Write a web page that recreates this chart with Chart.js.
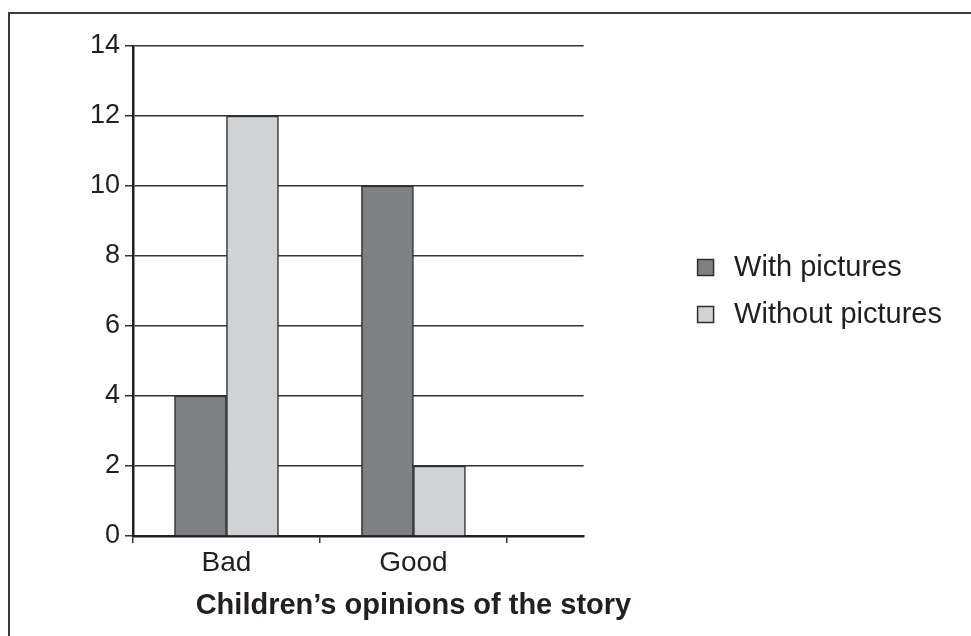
<!DOCTYPE html>
<html>
<head>
<meta charset="utf-8">
<script src="https://cdn.jsdelivr.net/npm/chart.js@4/dist/chart.umd.min.js"></script>
<style>
  html, body { margin: 0; padding: 0; background: #fff; overflow: hidden; width: 971px; height: 636px; }
  #frame { position: absolute; left: 8px; top: 12px; width: 1000px; height: 700px; border-left: 2px solid #3c3c3c; border-top: 2px solid #3c3c3c; box-sizing: border-box; }
  #wrap { position: absolute; left: 0; top: 0; width: 971px; height: 636px; }
</style>
</head>
<body>
<div id="frame"></div>
<div id="wrap"><canvas id="c" width="971" height="636"></canvas></div>
<script>
// ---- data ----
const categories = ['Bad', 'Good'];
const withPictures = [4, 10];
const withoutPictures = [12, 2];
const seriesNames = ['With pictures', 'Without pictures'];
const yTicks = [0, 2, 4, 6, 8, 10, 12, 14];
const axisTitle = 'Children\u2019s opinions of the story';

const TEXT = '#231f20';
const FONT = "'Liberation Sans', Arial, sans-serif";

// Linear scale whose title is centred over a wider span of category slots
class SpanTitleLinear extends Chart.LinearScale {
  drawTitle() {
    const r = this.right;
    const span = this.options.titleSpan;
    if (span != null) this.right = this.getPixelForValue(span);
    super.drawTitle();
    this.right = r;
  }
}
SpanTitleLinear.id = 'linearSpanTitle';
SpanTitleLinear.defaults = Chart.LinearScale.defaults;
Chart.register(SpanTitleLinear);

const toPoints = vals => categories.map((c, i) => ({ x: i + 0.5, y: vals[i] }));

new Chart(document.getElementById('c'), {
  type: 'bar',
  data: {
    datasets: [
      { label: seriesNames[0], data: toPoints(withPictures), backgroundColor: '#7f8083', borderColor: '#2e2e2e', borderWidth: 1.5, xAxisID: 'x', yAxisID: 'y' },
      { label: seriesNames[1], data: toPoints(withoutPictures), backgroundColor: '#d1d2d4', borderColor: '#2e2e2e', borderWidth: 1.5, xAxisID: 'x', yAxisID: 'y' }
    ]
  },
  options: {
    responsive: false,
    animation: false,
    devicePixelRatio: 1,
    barThickness: 52,
    layout: { padding: { top: 46, right: 19, bottom: 0, left: 0 } },
    plugins: {
      tooltip: { enabled: false },
      legend: {
        position: 'right',
        fullSize: false,
        maxWidth: 320,
        labels: {
          usePointStyle: true,
          pointStyle: 'rect',
          boxWidth: 28,
          boxHeight: 16,
          padding: 18,
          color: TEXT,
          font: { family: FONT, size: 29 }
        }
      }
    },
    scales: {
      x: {
        type: 'linearSpanTitle',
        position: 'bottom',
        offset: false,
        min: 0,
        max: 2.41,
        titleSpan: categories.length + 1,
        afterBuildTicks: s => {
          const t = [];
          for (let i = 0; i <= categories.length; i++) {
            t.push({ value: i });
            if (i < categories.length) t.push({ value: i + 0.5 });
          }
          s.ticks = t;
        },
        afterFit: s => { s.height = 100; },
        grid: {
          display: true,
          offset: false,
          drawOnChartArea: false,
          drawTicks: true,
          tickLength: 7,
          lineWidth: 1.5,
          tickColor: ctx => (ctx.tick && Number.isInteger(ctx.tick.value)) ? '#333333' : 'rgba(0,0,0,0)'
        },
        border: { display: true, color: TEXT, width: 2.5 },
        ticks: {
          autoSkip: false,
          maxRotation: 0,
          padding: 3,
          color: TEXT,
          font: { family: FONT, size: 28 },
          callback: v => {
            const i = v - 0.5;
            return Number.isInteger(i) && categories[i] !== undefined ? categories[i] : '';
          }
        },
        title: {
          display: true,
          text: axisTitle,
          color: TEXT,
          font: { family: FONT, size: 29, weight: 'bold' },
          padding: { top: 0, bottom: 13 }
        }
      },
      y: {
        type: 'linear',
        position: 'left',
        min: 0,
        max: 14,
        afterBuildTicks: s => { s.ticks = yTicks.map(v => ({ value: v })); },
        afterFit: s => { s.width = 133; },
        grid: {
          color: '#333333',
          lineWidth: 1.5,
          tickLength: 8,
          tickColor: '#333333'
        },
        border: { display: true, color: TEXT, width: 2.5 },
        ticks: {
          padding: 5,
          color: TEXT,
          font: { family: FONT, size: 27 }
        }
      },
      gap: {
        type: 'linear',
        position: 'right',
        display: true,
        grid: { display: false, drawTicks: false },
        border: { display: false },
        ticks: { display: false },
        afterFit: s => { s.width = 90; }
      }
    }
  }
});
</script>
</body>
</html>
